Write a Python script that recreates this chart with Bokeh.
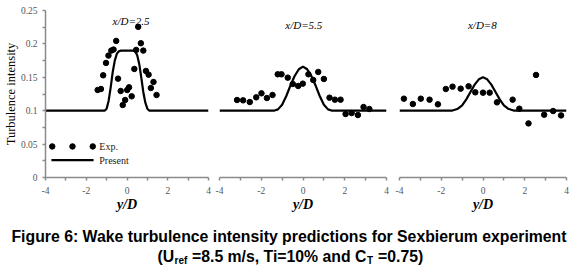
from bokeh.plotting import figure
from bokeh.layouts import row, column
from bokeh.models import Range1d, FixedTicker, CustomJSTickFormatter, Label
from bokeh.embed import file_html
from bokeh.resources import INLINE

# ---------------- data ----------------
panel_titles = ["x/D=2.5", "x/D=5.5", "x/D=8"]

exp1_x = [-1.44, -1.28, -1.17, -1.03, -0.91, -0.77, -0.66, -0.53, -0.44, -0.31,
          -0.21, -0.09, 0.01, 0.10, 0.23, 0.36, 0.45, 0.55, 0.68, 0.80,
          0.93, 1.06, 1.17, 1.30, 1.45]
exp1_y = [0.131, 0.1325, 0.153, 0.1715, 0.1825, 0.190, 0.1915, 0.2045, 0.148, 0.1295,
          0.1085, 0.116, 0.131, 0.135, 0.1215, 0.1625, 0.191, 0.2255, 0.201, 0.190,
          0.1595, 0.154, 0.134, 0.143, 0.1235]

exp2_x = [-3.16, -2.87, -2.55, -2.24, -1.99, -1.73, -1.46, -1.21, -1.03, -0.73,
          -0.49, -0.23, -0.01, 0.26, 0.49, 0.73, 1.00, 1.27, 1.53, 1.80,
          2.04, 2.33, 2.63, 2.90, 3.18]
exp2_y = [0.116, 0.1155, 0.113, 0.120, 0.126, 0.119, 0.1235, 0.1545, 0.1545, 0.1495,
          0.140, 0.137, 0.1405, 0.1545, 0.146, 0.158, 0.1475, 0.1195, 0.1165, 0.1165,
          0.095, 0.0965, 0.0935, 0.1055, 0.1025]

exp3_x = [-3.79, -3.36, -2.98, -2.56, -2.16, -1.78, -1.46, -1.07, -0.69, -0.37,
          0.00, 0.32, 0.67, 1.42, 1.74, 2.18, 2.54, 2.93, 3.36, 3.74]
exp3_y = [0.118, 0.110, 0.118, 0.1165, 0.1095, 0.1325, 0.136, 0.133, 0.1365, 0.1275,
          0.127, 0.127, 0.1125, 0.1165, 0.103, 0.081, 0.1535, 0.094, 0.0995, 0.093]

model1_x = [-4.0, -1.1, -1.0, -0.9, -0.8, -0.7, -0.6, -0.5, -0.4, -0.3,
            0.3, 0.4, 0.5, 0.6, 0.7, 0.8, 0.9, 1.0, 1.1, 4.0]
model1_y = [0.100, 0.100, 0.103, 0.115, 0.135, 0.158, 0.175, 0.185, 0.189, 0.190,
            0.190, 0.189, 0.183, 0.170, 0.150, 0.128, 0.112, 0.103, 0.100, 0.100]

model2_x = [-4.0, -1.4, -1.2, -1.0, -0.8, -0.6, -0.4, -0.2, 0.0,
            0.2, 0.4, 0.6, 0.8, 1.0, 1.2, 1.4, 4.0]
model2_y = [0.100, 0.100, 0.102, 0.109, 0.122, 0.138, 0.152, 0.162, 0.166,
            0.162, 0.152, 0.138, 0.122, 0.109, 0.102, 0.100, 0.100]

model3_x = [-4.0, -1.5, -1.2, -1.0, -0.8, -0.6, -0.4, -0.2, 0.0,
            0.2, 0.4, 0.6, 0.8, 1.0, 1.2, 1.5, 4.0]
model3_y = [0.100, 0.100, 0.103, 0.108, 0.117, 0.128, 0.139, 0.147, 0.150,
            0.147, 0.139, 0.128, 0.117, 0.108, 0.103, 0.100, 0.100]

x_ticks = [-4, -2, 0, 2, 4]
x_minor = [-3, -1, 1, 3]
y_ticks = [0, 0.05, 0.1, 0.15, 0.2, 0.25]
y_minor = [0.025, 0.075, 0.125, 0.175, 0.225]

x_label = "y/D"
y_label = "Turbulence intensity"
legend_labels = ["Exp.", "Present"]
caption_line1 = "Figure 6: Wake turbulence intensity predictions for Sexbierum experiment"
caption_line2 = ["(U", "ref", "=8.5 m/s, Ti=10% and C", "T", "=0.75)"]

# ---------------- styling ----------------
SERIF = "Liberation Serif"
SANS = "Liberation Sans"
AXIS_COLOR = "#8a8a8a"
TICK_LABEL_COLOR = "#555555"

H = 217
fmt = "return String(tick)"


def make_panel(ex, ey, mx, my, title, title_y, title_x, width, left, right, with_y):
    p = figure(width=width, height=H, output_backend="svg", toolbar_location=None,
               x_range=Range1d(-4, 4), y_range=Range1d(0, 0.25),
               y_axis_location="left" if with_y else None,
               min_border_left=left, min_border_right=right,
               min_border_top=10, min_border_bottom=40,
               outline_line_color=None, background_fill_color="white",
               border_fill_color="white")
    p.grid.visible = False
    xa = p.xaxis[0]
    xa.ticker = FixedTicker(ticks=x_ticks, minor_ticks=x_minor)
    xa.formatter = CustomJSTickFormatter(code=fmt)
    xa.axis_label = x_label
    xa.axis_label_text_font = SERIF
    xa.axis_label_text_font_style = "bold italic"
    xa.axis_label_text_font_size = "14px"
    xa.axis_label_text_color = "black"
    xa.axis_label_standoff = 0
    xa.major_label_text_font = SERIF
    xa.major_label_text_font_size = "9.5px"
    xa.major_label_text_color = TICK_LABEL_COLOR
    xa.major_label_standoff = 6
    for a in [xa] + (list(p.yaxis) if with_y else []):
        a.axis_line_color = AXIS_COLOR
        a.axis_line_width = 1.5
        a.major_tick_line_color = AXIS_COLOR
        a.minor_tick_line_color = AXIS_COLOR
        a.major_tick_line_width = 1.5
        a.minor_tick_line_width = 1.5
        a.major_tick_in = 0
        a.major_tick_out = 3
        a.minor_tick_in = 0
        a.minor_tick_out = 3
    if with_y:
        ya = p.yaxis[0]
        ya.ticker = FixedTicker(ticks=y_ticks, minor_ticks=y_minor)
        ya.formatter = CustomJSTickFormatter(code=fmt)
        ya.axis_label = y_label
        ya.axis_label_text_font = SERIF
        ya.axis_label_text_font_style = "normal"
        ya.axis_label_text_font_size = "12.5px"
        ya.axis_label_text_color = "black"
        ya.axis_label_standoff = 0
        ya.major_label_text_font = SERIF
        ya.major_label_text_font_size = "9.5px"
        ya.major_label_text_color = TICK_LABEL_COLOR
        ya.major_label_standoff = 5

    p.line(mx, my, line_color="black", line_width=2.2)
    p.scatter(ex, ey, size=5.5, marker="circle", fill_color="black", line_color="black")
    p.add_layout(Label(x=title_x, y=title_y, text=title, text_align="center",
                       text_baseline="middle", text_font=SERIF,
                       text_font_style="italic", text_font_size="11px",
                       text_color="black"))
    return p


p1 = make_panel(exp1_x, exp1_y, model1_x, model1_y, panel_titles[0], 0.235, 0.2,
                213, 41, 5, True)
p2 = make_panel(exp2_x, exp2_y, model2_x, model2_y, panel_titles[1], 0.229, 0.04,
                179, 6, 6, False)
p3 = make_panel(exp3_x, exp3_y, model3_x, model3_y, panel_titles[2], 0.229, -0.03,
                185, 7, 11, False)

# legend key (drawn like the original: three dots for Exp., a line for Present)
key_left, key_right = -3.71, -1.64
key_y_exp, key_y_model = 0.0465, 0.026
p1.scatter([key_left + 0.04, (key_left + key_right) / 2, key_right - 0.04],
           [key_y_exp] * 3, size=5.5, marker="circle",
           fill_color="black", line_color="black")
p1.line([key_left, key_right], [key_y_model, key_y_model], line_color="black",
        line_width=2.2)
for lab, ky in zip(legend_labels, [key_y_exp, key_y_model]):
    p1.add_layout(Label(x=key_right + 0.28, y=ky, text=lab, text_align="left",
                        text_baseline="middle", text_font=SERIF,
                        text_font_size="10px", text_color="#222222"))

# caption
CAP_H = 270 - H
cap = figure(width=577, height=CAP_H, output_backend="svg", toolbar_location=None,
             x_range=Range1d(0, 1), y_range=Range1d(0, 1),
             x_axis_location=None, y_axis_location=None, min_border=0,
             outline_line_color=None)
cap.grid.visible = False
FS = "15.8px"
SUB = "10px"
cap.add_layout(Label(x=288.5, y=CAP_H - 19, x_units="screen", y_units="screen",
                     text=caption_line1, text_align="center", text_baseline="alphabetic",
                     text_font=SANS, text_font_style="bold", text_font_size=FS,
                     text_color="black"))
base2 = CAP_H - 39
piece_x = [157.0, 174.0, 191.5, 366.5, 377.5]
piece_dy = [0, -4, 0, -4, 0]
piece_fs = [FS, SUB, FS, SUB, FS]
for txt, x, dy, fs in zip(caption_line2, piece_x, piece_dy, piece_fs):
    cap.add_layout(Label(x=x, y=base2 + dy, x_units="screen", y_units="screen",
                         text=txt, text_align="left", text_baseline="alphabetic",
                         text_font=SANS, text_font_style="bold", text_font_size=fs,
                         text_color="black"))

layout = column(row(p1, p2, p3), cap)
open("out.html", "w").write(file_html(layout, INLINE))
